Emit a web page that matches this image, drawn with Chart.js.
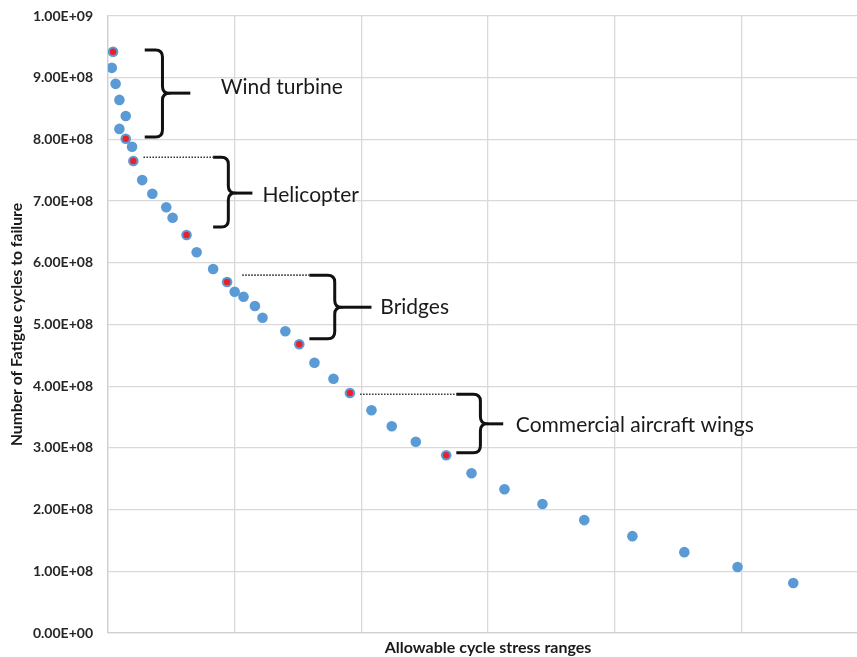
<!DOCTYPE html>
<html>
<head>
<meta charset="utf-8">
<script src="https://cdn.jsdelivr.net/npm/chart.js@4.4.1/dist/chart.umd.min.js"></script>
<style>
  html, body { margin: 0; padding: 0; background: #ffffff; overflow: hidden; }
  #wrap { width: 880px; height: 657px; }
</style>
</head>
<body>
<div id="wrap"><canvas id="c" width="880" height="657"></canvas></div>
<script>
// ---- data ----
const stressRange = [0.04, 0.03, 0.06, 0.09, 0.14, 0.09, 0.14, 0.19, 0.20, 0.27, 0.35, 0.46, 0.51,
  0.62, 0.70, 0.83, 0.94, 1.00, 1.07, 1.16, 1.22, 1.40, 1.51, 1.63, 1.78, 1.91, 2.08, 2.24, 2.43,
  2.67, 2.87, 3.13, 3.43, 3.76, 4.14, 4.55, 4.97, 5.41];
const fatigueCycles = [9.42e8, 9.16e8, 8.90e8, 8.64e8, 8.38e8, 8.17e8, 8.01e8, 7.88e8, 7.65e8, 7.34e8,
  7.12e8, 6.90e8, 6.73e8, 6.45e8, 6.17e8, 5.90e8, 5.69e8, 5.53e8, 5.45e8, 5.30e8, 5.11e8, 4.89e8,
  4.68e8, 4.38e8, 4.12e8, 3.89e8, 3.61e8, 3.35e8, 3.10e8, 2.88e8, 2.59e8, 2.33e8, 2.09e8, 1.83e8,
  1.57e8, 1.31e8, 1.07e8, 0.81e8];
const highlightedIdx = [0, 6, 8, 13, 16, 22, 25, 29];
const yTickLabels = ['0.00E+00', '1.00E+08', '2.00E+08', '3.00E+08', '4.00E+08', '5.00E+08',
  '6.00E+08', '7.00E+08', '8.00E+08', '9.00E+08', '1.00E+09'];
const xTitle = 'Allowable cycle stress ranges';
const yTitle = 'Number of Fatigue cycles to failure';

// brace annotations (data units)
const braceLabels = ['Wind turbine', 'Helicopter', 'Bridges', 'Commercial aircraft wings'];
const braceTop    = [9.45e8, 7.71e8, 5.80e8, 3.87e8];
const braceBottom = [8.04e8, 6.58e8, 4.77e8, 2.92e8];
const braceMid    = [8.75e8, 7.13e8, 5.28e8, 3.39e8];
const braceHookX  = [0.29, 0.83, 1.59, 2.75];
const braceSpineX = [0.43, 0.95, 1.79, 2.94];
const braceTipX   = [0.65, 1.14, 2.08, 3.12];
const labelX      = [0.89, 1.22, 2.15, 3.22];
const labelY      = [8.85e8, 7.10e8, 5.28e8, 3.37e8];
const leaderStartX = [null, 0.28, 1.06, 1.99];

const allPts = stressRange.map((x, i) => ({ x: x, y: fatigueCycles[i] }));
const redPts = highlightedIdx.map(i => ({ x: stressRange[i], y: fatigueCycles[i] }));

const annotatePlugin = {
  id: 'braces',
  afterDatasetsDraw(chart) {
    const ctx = chart.ctx;
    const xs = chart.scales.x, ys = chart.scales.y;
    ctx.save();
    for (let i = 0; i < braceLabels.length; i++) {
      const xl = xs.getPixelForValue(braceHookX[i]);
      const xsp = xs.getPixelForValue(braceSpineX[i]);
      const xt = xs.getPixelForValue(braceTipX[i]);
      const yt = ys.getPixelForValue(braceTop[i]);
      const yb = ys.getPixelForValue(braceBottom[i]);
      const ym = ys.getPixelForValue(braceMid[i]);
      if (leaderStartX[i] !== null) {
        ctx.beginPath();
        ctx.setLineDash([1.5, 1.5]);
        ctx.lineWidth = 1.6;
        ctx.strokeStyle = '#333333';
        ctx.moveTo(xs.getPixelForValue(leaderStartX[i]), yt);
        ctx.lineTo(xl, yt);
        ctx.stroke();
      }
      ctx.setLineDash([]);
      ctx.lineWidth = 3;
      ctx.strokeStyle = '#111111';
      ctx.lineCap = 'butt';
      ctx.lineJoin = 'round';
      const r = Math.min(7, xsp - xl);
      ctx.beginPath();
      ctx.moveTo(xl, yt);
      ctx.lineTo(xsp - r, yt);
      ctx.quadraticCurveTo(xsp, yt, xsp, yt + r);
      ctx.lineTo(xsp, ym - r);
      ctx.quadraticCurveTo(xsp, ym, xsp + r, ym);
      ctx.quadraticCurveTo(xsp, ym, xsp, ym + r);
      ctx.lineTo(xsp, yb - r);
      ctx.quadraticCurveTo(xsp, yb, xsp - r, yb);
      ctx.lineTo(xl, yb);
      ctx.stroke();
      ctx.beginPath();
      ctx.moveTo(xsp + r, ym);
      ctx.lineTo(xt, ym);
      ctx.stroke();
      ctx.fillStyle = '#1a1a1a';
      ctx.font = '21px Lato, "Open Sans", sans-serif';
      ctx.textAlign = 'left';
      ctx.textBaseline = 'middle';
      ctx.fillText(braceLabels[i], xs.getPixelForValue(labelX[i]), ys.getPixelForValue(labelY[i]));
    }
    ctx.restore();
  }
};

new Chart(document.getElementById('c'), {
  type: 'scatter',
  data: {
    datasets: [
      {
        label: 'highlighted',
        data: redPts,
        pointRadius: 3.2,
        pointBackgroundColor: '#e8212b',
        pointBorderWidth: 0,
        pointHoverRadius: 3.2
      },
      {
        label: 'cycles',
        data: allPts,
        pointRadius: 5.3,
        pointBackgroundColor: '#5b9bd5',
        pointBorderColor: '#5b9bd5',
        pointBorderWidth: 0,
        pointHoverRadius: 5.3
      }
    ]
  },
  options: {
    responsive: false,
    animation: false,
    devicePixelRatio: 1,
    layout: { padding: { top: 0, right: 12, left: 0, bottom: 0 } },
    plugins: { legend: { display: false }, tooltip: { enabled: false } },
    scales: {
      x: {
        type: 'linear',
        min: 0, max: 6,
        ticks: { display: false, stepSize: 1 },
        grid: { color: '#d9d9d9', lineWidth: 1.3, drawTicks: false },
        border: { color: '#d0d0d0', width: 1.3 },
        title: {
          display: true, text: xTitle, color: '#1a1a1a',
          font: { family: 'Lato', size: 16, weight: 'bold' },
          padding: { top: 5, bottom: 0 }
        },
        afterFit(scale) { scale.height = 24; }
      },
      y: {
        type: 'linear',
        min: 0, max: 1e9,
        ticks: {
          stepSize: 1e8,
          padding: 15,
          color: '#262626',
          font: { family: 'Lato', size: 14, weight: 'bold' },
          callback: (v, i) => yTickLabels[i]
        },
        grid: { color: '#d9d9d9', lineWidth: 1.3, drawTicks: false },
        border: { color: '#d0d0d0', width: 1.3 },
        title: {
          display: true, text: yTitle, color: '#1a1a1a',
          font: { family: 'Lato', size: 15.7, weight: 'bold' },
          padding: { top: 8, bottom: 0 }
        },
        afterFit(scale) {
          scale.width = 108;
          scale.paddingTop = 16;
          scale.paddingBottom = 8;
        }
      }
    }
  },
  plugins: [annotatePlugin]
});
</script>
</body>
</html>
